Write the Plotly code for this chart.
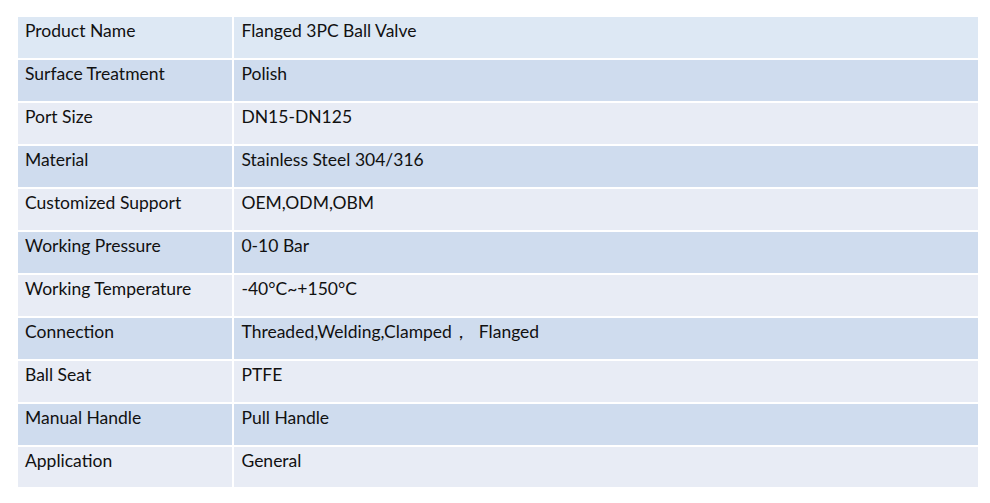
import plotly.graph_objects as go

# specification table values
header_label = "Product Name"
header_value = "Flanged 3PC Ball Valve"

labels = [
    "Surface Treatment",
    "Port Size",
    "Material",
    "Customized Support",
    "Working Pressure",
    "Working Temperature",
    "Connection",
    "Ball Seat",
    "Manual Handle",
    "Application",
]
values = [
    "Polish",
    "DN15-DN125",
    "Stainless Steel 304/316",
    "OEM,ODM,OBM",
    "0-10 Bar",
    "-40°C~+150°C",
    "Threaded,Welding,Clamped，  Flanged",
    "PTFE",
    "Pull Handle",
    "General",
]

W, H = 990, 503
row_colors = ["#cfdcee" if i % 2 == 0 else "#e8ecf5" for i in range(len(labels))]
font = dict(family="Lato, Open Sans, sans-serif", size=17.5, color="#111111")

fig = go.Figure(go.Table(
    columnwidth=[216, 744],
    header=dict(
        values=[header_label, header_value],
        fill_color="#dde8f4",
        line=dict(color="white", width=2),
        align="left",
        font=font,
        height=43,
    ),
    cells=dict(
        values=[labels, values],
        fill_color=[row_colors, row_colors],
        line=dict(color="white", width=2),
        align="left",
        font=font,
        height=43,
    ),
    domain=dict(x=[9 / W, 971 / W], y=[1 - 479 / H, 1 - 8 / H]),
))

fig.update_layout(
    width=W, height=H,
    margin=dict(l=0, r=0, t=0, b=0),
    paper_bgcolor="white",
)

fig.write_html("out.html")
